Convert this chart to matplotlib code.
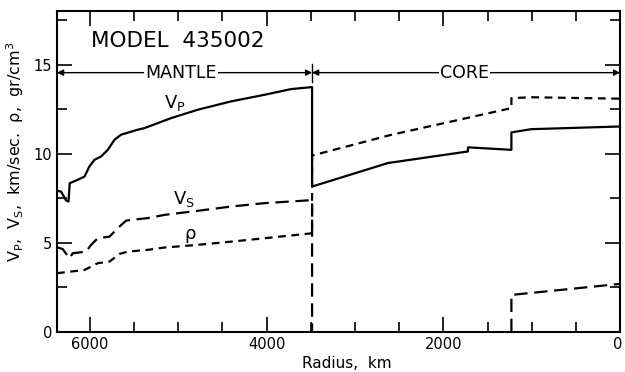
import matplotlib
matplotlib.use("Agg")
import matplotlib.pyplot as plt
import matplotlib.transforms as mtransforms
import numpy as np

plt.rcParams["mathtext.default"] = "regular"

# radius (km) and values
r_vp = [6371, 6325, 6268, 6241, 6227, 6136, 6060, 6004, 5947, 5872, 5796, 5720, 5646,
        5457, 5381, 5080, 4778, 4400, 4022, 3721, 3485,
        3485, 2627, 1721, 1721, 1230, 1230, 1004, 0]
vp = [7.92, 7.88, 7.38, 7.32, 8.35, 8.54, 8.72, 9.29, 9.66, 9.85, 10.22, 10.79, 11.07,
      11.35, 11.44, 12.0, 12.47, 12.94, 13.31, 13.63, 13.74,
      8.16, 9.48, 10.13, 10.36, 10.22, 11.2, 11.38, 11.53]

r_vs = [6371, 6306, 6230, 6192, 6042, 5985, 5910, 5777, 5683, 5589, 5533, 5343, 5155,
        4778, 4400, 4022, 3485, 3485, np.nan, 1230, 1230, 0]
vs = [4.76, 4.65, 4.14, 4.42, 4.51, 4.89, 5.26, 5.35, 5.83, 6.25, 6.29, 6.39, 6.57,
      6.8, 7.04, 7.23, 7.4, 0, np.nan, 0, 2.08, 2.7]

r_rho = [6371, 6060, 5910, 5777, 5664, 5570, 5343, 5155, 4778, 4400, 4022, 3485,
         3485, 2600, 1230, 1230, 1004, 0]
rho = [3.3, 3.48, 3.86, 3.95, 4.38, 4.51, 4.61, 4.74, 4.89, 5.07, 5.26, 5.54,
       9.9, 11.05, 12.56, 13.12, 13.17, 13.09]

r_surface = 6371
r_cmb = 3485

fig = plt.figure(figsize=(6.25, 3.72), dpi=100)
ax = fig.add_axes([0.0912, 0.1075, 0.901, 0.8625])

ax.plot(r_vp, vp, color="black", lw=1.6)
ax.plot(r_vs, vs, color="black", lw=1.6, dashes=(6, 3))
ax.plot(r_rho, rho, color="black", lw=1.6, dashes=(3.5, 2.5))

ax.set_xlim(r_surface, 0)
ax.set_ylim(0, 18)

ax.set_xticks([6000, 4000, 2000, 0])
ax.set_xticks(np.arange(0, 6500, 500), minor=True)
ax.set_yticks([0, 5, 10, 15])
ax.set_yticks(np.arange(0, 18, 2.5), minor=True)
ax.tick_params(which="both", direction="in", top=True, right=True,
               labelsize=10.5, width=1.2)
ax.tick_params(which="major", length=11)
ax.tick_params(which="minor", length=7)
for s in ax.spines.values():
    s.set_linewidth(1.5)

# keep the "0" at the right end inside the figure
last = ax.get_xticklabels()[-1]
last.set_transform(last.get_transform() +
                   mtransforms.ScaledTranslation(-2 / 100, 0, fig.dpi_scale_trans))

ax.set_xlabel("Radius,  km", fontsize=11)
ax.xaxis.set_label_coords(0.515, -0.075)
ax.set_ylabel(r"$V_P$,  $V_S$,  km/sec.  $\rho$,  gr/cm$^3$", fontsize=11.5)
ax.yaxis.set_label_coords(-0.055, 0.56)

# region arrows
arrow_y = 14.55
ax.annotate("", xy=(r_surface, arrow_y), xytext=(r_cmb, arrow_y),
            arrowprops=dict(arrowstyle="<|-|>", color="black", lw=1.0,
                            mutation_scale=9, shrinkA=0, shrinkB=0))
ax.annotate("", xy=(r_cmb, arrow_y), xytext=(0, arrow_y),
            arrowprops=dict(arrowstyle="<|-|>", color="black", lw=1.0,
                            mutation_scale=9, shrinkA=0, shrinkB=0))
ax.plot([r_cmb, r_cmb], [arrow_y - 0.5, arrow_y + 0.5], color="black", lw=1.0)
ax.text(4970, arrow_y, "MANTLE", fontsize=12.5, ha="center", va="center",
        bbox=dict(facecolor="white", edgecolor="none", pad=1))
ax.text(1760, arrow_y, "CORE", fontsize=12.5, ha="center", va="center",
        bbox=dict(facecolor="white", edgecolor="none", pad=1))

ax.text(5990, 16.35, "MODEL  435002", fontsize=15.5, ha="left", va="center")

ax.text(5040, 12.85, "$V_P$", fontsize=13, ha="center", va="center")
ax.text(4930, 7.45, "$V_S$", fontsize=13, ha="center", va="center")
ax.text(4860, 5.4, r"$\rho$", fontsize=13, ha="center", va="center")

fig.savefig("out.png", dpi=100)
